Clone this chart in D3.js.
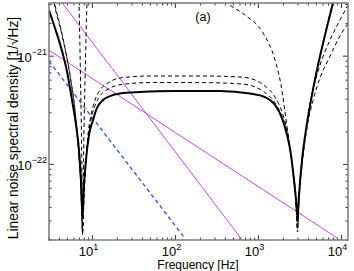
<!DOCTYPE html>
<html>
<head>
<meta charset="utf-8">
<script src="https://cdn.jsdelivr.net/npm/d3@7"></script>
<style>
body { margin: 0; background: #fff; }
svg { font-family: "Liberation Sans", Arial, sans-serif; }
</style>
</head>
<body>
<div id="chart"></div>
<script>
// frequency [Hz] / spectral density [1/sqrt(Hz)]
var xTicks = [10, 100, 1000, 10000],
    yTicks = [1e-22, 1e-21],
    panelLabel = "(a)";

var solid = [[3,2.67e-21],[3.54,1.82e-21],[4.07,1.30e-21],[4.90,7.45e-22],[5.68,3.93e-22],
  [6.35,2.31e-22],[6.89,1.36e-22],[7.29,7.17e-23],[7.60,3.19e-23],[7.92,6.45e-23],[8.37,1.10e-22],
  [9.10,1.87e-22],[10.17,2.57e-22],[11.36,3.32e-22],[13.4,3.93e-22],[16.3,4.28e-22],[21.5,4.52e-22],
  [37.5,4.66e-22],[98.9,4.77e-22],[344,4.77e-22],[792,4.52e-22],[1201,4.19e-22],[1585,3.54e-22],
  [1925,2.68e-22],[2212,1.87e-22],[2471,1.22e-22],[2684,7.17e-23],[2838,4.69e-23],[2958,3.19e-23],
  [3084,5.21e-23],[3351,1.10e-22],[3746,2.08e-22],[4303,3.93e-22],[5226,8.29e-22],[6346,1.57e-21],
  [7924,3.1e-21],[9000,4.5e-21]];

var dashA = [[3.2,4.2e-21],[3.45,3.1e-21],[4.30,1.57e-21],[5.37,6.70e-22],[6.17,3.18e-22],[6.80,1.36e-22],
  [7.29,5.80e-23],[7.60,2.37e-23],[7.92,5.21e-23],[8.37,1.10e-22],[8.85,1.87e-22],[9.62,2.86e-22],
  [10.75,3.93e-22],[12.35,4.87e-22],[15.4,5.65e-22],[21.5,6.28e-22],[49.4,6.56e-22],[198,6.56e-22],
  [600,6.42e-22],[910,6.02e-22],[1201,5.30e-22],[1585,4.19e-22],[1979,2.86e-22],[2337,1.68e-22],
  [2612,8.87e-23],[2838,4.69e-23],[2958,2.58e-23],[3084,5.21e-23],[3351,1.10e-22],[3850,2.57e-22],
  [4547,4.87e-22],[5523,8.29e-22],[7287,1.41e-21],[9888,2.25e-21],[12000,2.97e-21]];

var dashB = [[3.2,4.6e-21],[3.45,3.3e-21],[4.30,1.62e-21],[5.37,6.6e-22],[6.17,3.1e-22],[6.80,1.33e-22],
  [7.29,5.6e-23],[7.60,2.3e-23],[7.92,5.0e-23],[8.37,1.05e-22],[8.85,1.75e-22],[9.62,2.6e-22],
  [10.75,3.5e-22],[12.35,4.3e-22],[15.4,4.95e-22],[21.5,5.45e-22],[49.4,5.7e-22],[198,5.7e-22],
  [600,5.55e-22],[910,5.2e-22],[1201,4.6e-22],[1585,3.7e-22],[1979,2.6e-22],[2337,1.55e-22],
  [2612,8.3e-23],[2838,4.5e-23],[2958,2.5e-23],[3084,5.0e-23],[3351,1.0e-22],[3850,2.2e-22],
  [4547,3.9e-22],[5523,6.3e-22],[7287,1.0e-21],[9888,1.6e-21],[12000,2.0e-21]];

var dashC = [[6.5,6e-21],[6.89,3.1e-21],[7.19,6.02e-22],[7.45,1.10e-22],[7.60,2.22e-23],[7.81,1.10e-22],
  [8.15,6.02e-22],[8.61,3.1e-21],[9,5e-21],[30,1.5e-20],[150,1e-20],[424,3.1e-21],[689,2.40e-21],
  [1136,1.64e-21],[1585,9.22e-22],[1872,5.41e-22],[2212,2.21e-22],[2540,9.87e-23],[2838,4.21e-23],
  [2958,2.37e-23],[3084,4.69e-23],[3351,9.87e-23],[3850,2.31e-22],[4547,5.0e-22],[5523,1.0e-21],
  [7000,2.2e-21],[8000,3.3e-21]];

var magentaSteep = [[4.35,3.1e-21],[637,2.0e-23]],
    magentaShallow = [[3,1.135e-21],[8870,2.09e-23]],
    blueDash = [[3,9.0e-22],[125,2.16e-23]];

var W = 354, H = 271,
    L = 49, R = 348, T = 3, B = 240;

var svg = d3.select("#chart").append("svg")
    .attr("width", W)
    .attr("height", H);

var x = d3.scaleLog().domain([3, 12000]).range([L, R]),
    y = d3.scaleLog().domain([2e-23, 3.1e-21]).range([B, T]);

svg.append("clipPath").attr("id", "clip")
  .append("rect").attr("x", L).attr("y", T).attr("width", R - L).attr("height", B - T);

var line = d3.line()
    .x(function(d) { return x(d[0]); })
    .y(function(d) { return y(d[1]); })
    .curve(d3.curveMonotoneX);

var plot = svg.append("g").attr("clip-path", "url(#clip)");

function draw(data, color, width, dash) {
  plot.append("path")
      .datum(data)
      .attr("fill", "none")
      .attr("stroke", color)
      .attr("stroke-width", width)
      .attr("stroke-dasharray", dash)
      .attr("d", line);
}

draw(magentaSteep, "#c04af0", 1, null);
draw(magentaShallow, "#c04af0", 1, null);
draw(blueDash, "#2f52f2", 1.3, "4,3");
draw(dashA, "#000", 1, "4,3");
draw(dashB, "#000", 1, "4,3");
draw(dashC, "#000", 1, "4,3");
draw(solid, "#000", 2, null);

// ticks (inward, all four sides)
var xMinor = [], yMinor = [];
[1, 10, 100, 1000].forEach(function(d) {
  d3.range(2, 10).forEach(function(k) { if (d * k >= 3 && d * k <= 12000) xMinor.push(d * k); });
});
[1e-23, 1e-22, 1e-21].forEach(function(d) {
  d3.range(2, 10).forEach(function(k) { if (d * k >= 2e-23 && d * k <= 3.1e-21) yMinor.push(d * k); });
});

var axisColor = "#7a7a7a";
var gx = svg.append("g");
function xTick(v, len) {
  gx.append("line").attr("x1", x(v)).attr("x2", x(v)).attr("y1", B).attr("y2", B - len);
  gx.append("line").attr("x1", x(v)).attr("x2", x(v)).attr("y1", T).attr("y2", T + len);
}
function yTick(v, len) {
  gx.append("line").attr("y1", y(v)).attr("y2", y(v)).attr("x1", L).attr("x2", L + len);
  gx.append("line").attr("y1", y(v)).attr("y2", y(v)).attr("x1", R).attr("x2", R - len);
}
xTicks.forEach(function(v) { xTick(v, 5); });
xMinor.forEach(function(v) { xTick(v, 2.5); });
yTicks.forEach(function(v) { yTick(v, 5); });
yMinor.forEach(function(v) { yTick(v, 2.5); });
gx.selectAll("line").attr("stroke", "#333").attr("stroke-width", 1);

svg.append("rect")
    .attr("x", L).attr("y", T).attr("width", R - L).attr("height", B - T)
    .attr("fill", "none").attr("stroke", axisColor).attr("stroke-width", 1.5);

// tick labels
svg.selectAll(".xl").data(xTicks).enter().append("text")
    .attr("x", function(d) { return x(d) - 4; })
    .attr("y", 255.5)
    .attr("text-anchor", "middle")
    .attr("font-size", 13)
    .each(function(d) {
      var t = d3.select(this);
      t.append("tspan").text("10");
      t.append("tspan").attr("dy", -6).attr("font-size", 9).text(Math.round(Math.log10(d)));
    });

svg.selectAll(".yl").data(yTicks).enter().append("text")
    .attr("x", 47)
    .attr("y", function(d) { return y(d) + 6; })
    .attr("text-anchor", "end")
    .attr("font-size", 13)
    .each(function(d) {
      var t = d3.select(this);
      t.append("tspan").text("10");
      t.append("tspan").attr("dy", -7).attr("font-size", 9).text("\u2212" + Math.abs(Math.round(Math.log10(d))));
    });

svg.append("text")
    .attr("x", 203).attr("y", 21)
    .attr("text-anchor", "middle")
    .attr("font-size", 12.5)
    .text(panelLabel);

svg.append("text")
    .attr("x", 198).attr("y", 269)
    .attr("text-anchor", "middle")
    .attr("font-size", 12)
    .text("Frequency  [Hz]");

svg.append("text")
    .attr("transform", "translate(18,128) rotate(-90)")
    .attr("text-anchor", "middle")
    .attr("font-size", 13.8)
    .text("Linear noise spectral density  [1/\u221AHz]");
</script>
</body>
</html>
